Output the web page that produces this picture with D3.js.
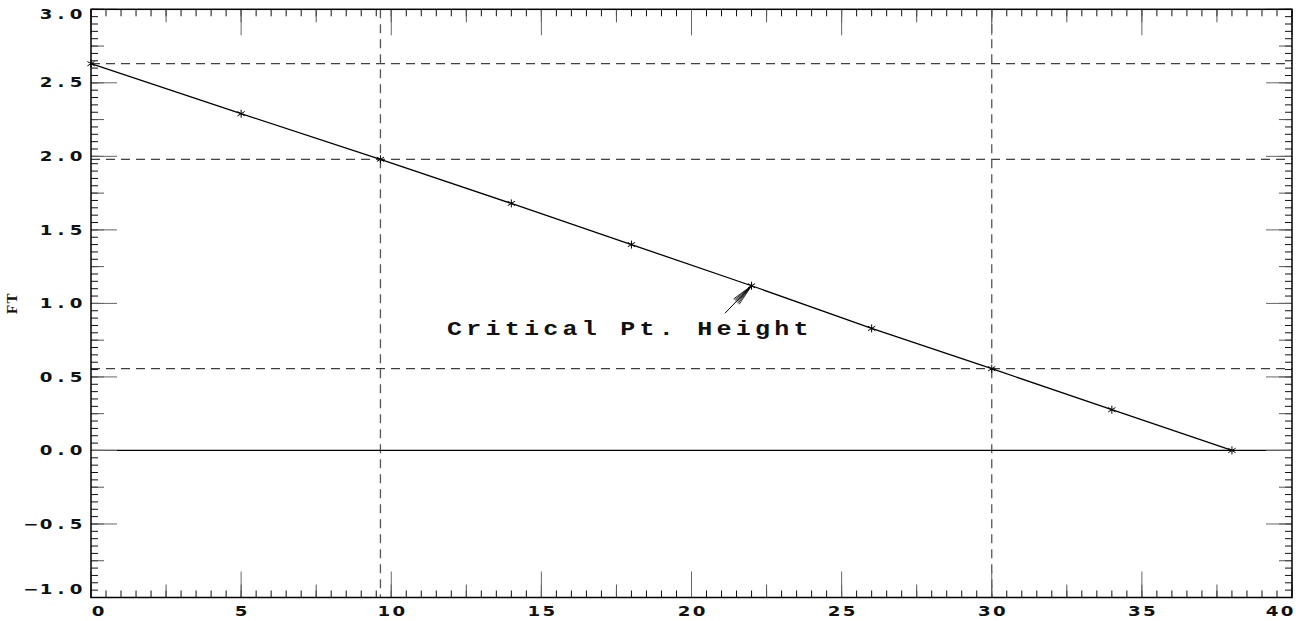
<!DOCTYPE html>
<html>
<head>
<meta charset="utf-8">
<script src="https://cdn.jsdelivr.net/npm/d3@7"></script>
<style>
  html, body { margin: 0; padding: 0; background: #fff; }
  svg { display: block; }
</style>
</head>
<body>
<svg id="chart" width="1296" height="621"></svg>
<script>
// Height profile (FT) along the run
const distance = [0, 5, 9.64, 14, 18, 22, 26, 30, 34, 38];
const height   = [2.63, 2.29, 1.98, 1.68, 1.40, 1.12, 0.83, 0.556, 0.277, 0];

// Guide lines
const hGuides = [2.63, 1.98, 0.556];
const vGuides = [9.64, 30];
const baseline = [0];

// Axis labels
const xTickLabels = [0, 5, 10, 15, 20, 25, 30, 35, 40];
const yTickLabels = [-1.0, -0.5, 0.0, 0.5, 1.0, 1.5, 2.0, 2.5, 3.0];
const yTitle = "FT";

// Annotation
const noteText = "Critical Pt. Height";
const noteIndex = 5;

const L = 91, R = 1292, T = 9.3, B = 597.5;
const x = d3.scaleLinear().domain([0, 40]).range([L, R]);
const y = d3.scaleLinear().domain([-1, 3]).range([B, T]);

const svg = d3.select("#chart");
const g = svg.append("g");

// dashed guides
g.selectAll(".hg").data(hGuides).join("line")
  .attr("x1", L).attr("x2", R)
  .attr("y1", d => y(d)).attr("y2", d => y(d))
  .attr("stroke", "#111").attr("stroke-width", 1)
  .attr("stroke-dasharray", "9,6");
g.selectAll(".vg").data(vGuides).join("line")
  .attr("x1", d => x(d)).attr("x2", d => x(d))
  .attr("y1", T).attr("y2", B)
  .attr("stroke", "#555").attr("stroke-width", 1.3)
  .attr("stroke-dasharray", "9,6");
g.selectAll(".bl").data(baseline).join("line")
  .attr("x1", L).attr("x2", R)
  .attr("y1", d => y(d)).attr("y2", d => y(d))
  .attr("stroke", "#000").attr("stroke-width", 1.2);

// minor/medium/major ticks on all four sides
function tickSet(step, len, col) {
  const xs = d3.range(0, 40 + 1e-9, step);
  const ys = d3.range(-1, 3 + 1e-9, step / 10);
  const tg = g.append("g").attr("stroke", col).attr("stroke-width", 1);
  tg.selectAll(".b").data(xs).join("line")
    .attr("x1", d => x(d)).attr("x2", d => x(d)).attr("y1", B).attr("y2", B - len);
  tg.selectAll(".t").data(xs).join("line")
    .attr("x1", d => x(d)).attr("x2", d => x(d)).attr("y1", T).attr("y2", T + len);
  tg.selectAll(".l").data(ys).join("line")
    .attr("y1", d => y(d)).attr("y2", d => y(d)).attr("x1", L).attr("x2", L + len);
  tg.selectAll(".r").data(ys).join("line")
    .attr("y1", d => y(d)).attr("y2", d => y(d)).attr("x1", R).attr("x2", R - len);
}
tickSet(0.5, 7, "#111");
tickSet(2.5, 13, "#555");
tickSet(5, 26, "#666");

// frame
g.append("rect").attr("x", L).attr("y", T).attr("width", R - L).attr("height", B - T)
  .attr("fill", "none").attr("stroke", "#000").attr("stroke-width", 1.5);

// tick labels: fixed-pitch characters, stretched horizontally
const PITCH = 15, SX = 1.35;
function label(txt, centers, py) {
  svg.append("text")
    .attr("transform", `scale(${SX},1)`)
    .attr("x", centers.map(c => (c / SX).toFixed(2)).join(" "))
    .attr("y", py)
    .attr("font-family", "'DejaVu Sans', sans-serif").attr("font-weight", "bold")
    .attr("font-size", 13.5)
    .attr("fill", "#111").attr("text-anchor", "middle")
    .attr("dominant-baseline", "central")
    .text(txt);
}
yTickLabels.forEach(v => {
  const py = Math.min(Math.max(y(v), T + 5.5), B - 8.5);
  const s = d3.format(".1f")(v).replace("-", "\u2212");
  const n = s.length;
  label(s, d3.range(n).map(i => 76 - PITCH * (n - 1 - i)), py);
});
xTickLabels.forEach(v => {
  const s = String(v);
  const n = s.length;
  const w = (n - 1) * PITCH + 10;
  let cx = x(v);
  cx = Math.min(Math.max(cx, L + 2 + w / 2), R - w / 2);
  label(s, d3.range(n).map(i => cx - (n - 1) * PITCH / 2 + i * PITCH), 611.5);
});

// y title
svg.append("text")
  .attr("transform", `translate(17,303) rotate(-90)`)
  .attr("font-family", "'Liberation Serif', serif").attr("font-weight", "bold")
  .attr("font-size", 15).attr("letter-spacing", 1.5).attr("text-anchor", "middle")
  .attr("fill", "#111")
  .text(yTitle);

// series line
const pts = distance.map((d, i) => [x(d), y(height[i])]);
g.append("path").attr("d", d3.line()(pts))
  .attr("fill", "none").attr("stroke", "#000").attr("stroke-width", 1.3);

// asterisk markers
g.selectAll(".m").data(pts).join("path")
  .attr("transform", d => `translate(${d[0]},${d[1]})`)
  .attr("d", "M0,-4V4M-3.6,-2.2L3.6,2.2M-3.6,2.2L3.6,-2.2")
  .attr("stroke", "#000").attr("stroke-width", 1).attr("fill", "none");

// annotation arrow
const tip = pts[noteIndex];
const tail = [tip[0] - 26.7, tip[1] + 27.6];
g.append("line").attr("x1", tail[0]).attr("y1", tail[1]).attr("x2", tip[0]).attr("y2", tip[1])
  .attr("stroke", "#000").attr("stroke-width", 1);
const dx = tail[0] - tip[0], dy = tail[1] - tip[1];
const len = Math.hypot(dx, dy), ux = dx / len, uy = dy / len;
const headLen = 22, headW = 4;
const bc = [tip[0] + ux * headLen, tip[1] + uy * headLen];
d3.range(-headW, headW + 0.01, 1.3).forEach(o => {
  g.append("line")
    .attr("x1", tip[0]).attr("y1", tip[1])
    .attr("x2", bc[0] - uy * o).attr("y2", bc[1] + ux * o)
    .attr("stroke", "#000").attr("stroke-width", 0.8);
});

// annotation text
svg.append("text")
  .attr("transform", `translate(447,335) scale(1.25,1)`)
  .attr("font-family", "'Liberation Mono', monospace").attr("font-weight", "bold")
  .attr("font-size", 20).attr("letter-spacing", 3.4)
  .attr("fill", "#111")
  .text(noteText);
</script>
</body>
</html>
